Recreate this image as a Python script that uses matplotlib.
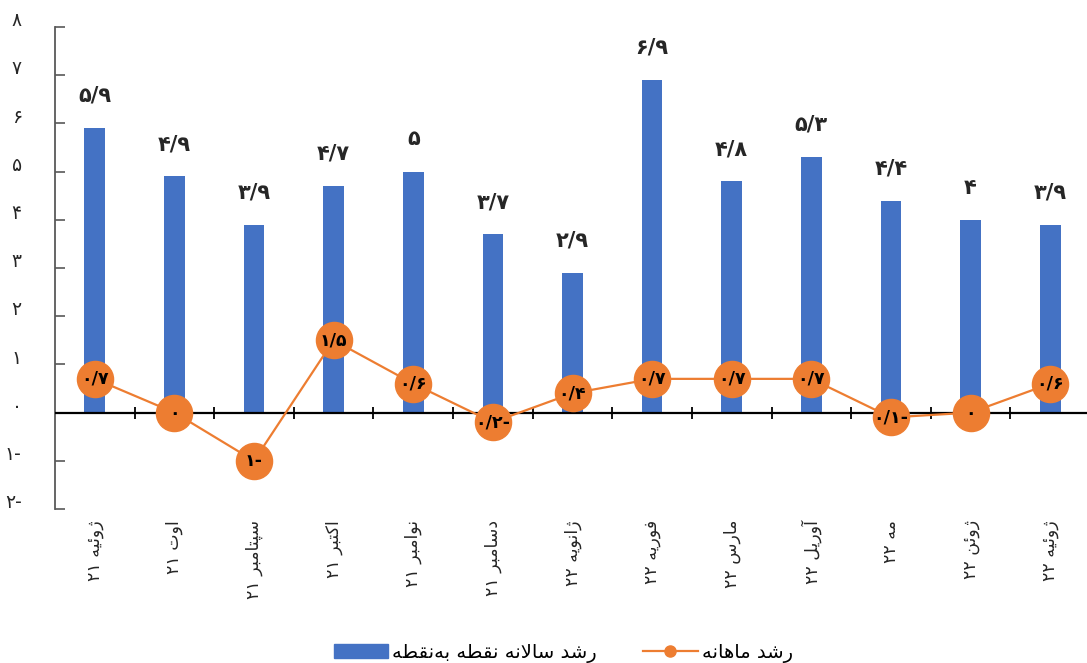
import matplotlib
matplotlib.use("Agg")
import matplotlib.pyplot as plt
from matplotlib.patches import Patch
from matplotlib.lines import Line2D
from matplotlib.transforms import ScaledTranslation

# ---- data ----
months = ["ژوئیه ۲۱", "اوت ۲۱", "سپتامبر ۲۱", "اکتبر ۲۱", "نوامبر ۲۱", "دسامبر ۲۱",
          "ژانویه ۲۲", "فوریه ۲۲", "مارس ۲۲", "آوریل ۲۲", "مه ۲۲", "ژوئن ۲۲", "ژوئیه ۲۲"]
yoy_growth = [5.9, 4.9, 3.9, 4.7, 5.0, 3.7, 2.9, 6.9, 4.8, 5.3, 4.4, 4.0, 3.9]
mom_growth = [0.7, 0.0, -1.0, 1.5, 0.6, -0.2, 0.4, 0.7, 0.7, 0.7, -0.1, 0.0, 0.6]
yoy_name = "رشد سالانه نقطه به\u200cنقطه"
mom_name = "رشد ماهانه"
y_ticks = [-2, -1, 0, 1, 2, 3, 4, 5, 6, 7, 8]

BLUE = "#4472C4"
ORANGE = "#ED7D31"

# ---- minimal Arabic-script shaping (presentation forms + visual order) ----
FORMS = {
    'ا': (0xFE8D, 0xFE8E, None, None), 'آ': (0xFE81, 0xFE82, None, None),
    'ب': (0xFE8F, 0xFE90, 0xFE91, 0xFE92), 'پ': (0xFB56, 0xFB57, 0xFB58, 0xFB59),
    'ت': (0xFE95, 0xFE96, 0xFE97, 0xFE98), 'د': (0xFEA9, 0xFEAA, None, None),
    'ر': (0xFEAD, 0xFEAE, None, None), 'ز': (0xFEAF, 0xFEB0, None, None),
    'ژ': (0xFB8A, 0xFB8B, None, None), 'س': (0xFEB1, 0xFEB2, 0xFEB3, 0xFEB4),
    'ش': (0xFEB5, 0xFEB6, 0xFEB7, 0xFEB8), 'ط': (0xFEC1, 0xFEC2, 0xFEC3, 0xFEC4),
    'ف': (0xFED1, 0xFED2, 0xFED3, 0xFED4), 'ق': (0xFED5, 0xFED6, 0xFED7, 0xFED8),
    'ک': (0xFB8E, 0xFB8F, 0xFB90, 0xFB91), 'ل': (0xFEDD, 0xFEDE, 0xFEDF, 0xFEE0),
    'م': (0xFEE1, 0xFEE2, 0xFEE3, 0xFEE4), 'ن': (0xFEE5, 0xFEE6, 0xFEE7, 0xFEE8),
    'ه': (0xFEE9, 0xFEEA, 0xFEEB, 0xFEEC), 'و': (0xFEED, 0xFEEE, None, None),
    'ی': (0xFBFC, 0xFBFD, 0xFBFE, 0xFBFF), 'ئ': (0xFE89, 0xFE8A, 0xFE8B, 0xFE8C),
}
LAM_ALEF = {'ا': (0xFEFB, 0xFEFC), 'آ': (0xFEF5, 0xFEF6)}


def joins_forward(c):
    return c in FORMS and FORMS[c][2] is not None


def shape_word(word):
    out = []
    chars = list(word)
    i = 0
    while i < len(chars):
        c = chars[i]
        if c not in FORMS:
            if c != '\u200c':
                out.append(c)
            i += 1
            continue
        prev_join = i > 0 and joins_forward(chars[i - 1])
        if c == 'ل' and i + 1 < len(chars) and chars[i + 1] in LAM_ALEF:
            iso, fin = LAM_ALEF[chars[i + 1]]
            out.append(chr(fin if prev_join else iso))
            i += 2
            continue
        next_join = (i + 1 < len(chars) and chars[i + 1] in FORMS
                     and joins_forward(c))
        iso, fin, ini, med = FORMS[c]
        if prev_join and next_join:
            g = med
        elif prev_join:
            g = fin
        elif next_join:
            g = ini
        else:
            g = iso
        out.append(chr(g))
        i += 1
    return ''.join(reversed(out))


def rtl(text):
    tokens = text.split(' ')
    vis = []
    for t in reversed(tokens):
        if any(ch in FORMS for ch in t):
            vis.append(shape_word(t))
        else:
            vis.append(t)
    return ' '.join(vis)


FA_DIGITS = str.maketrans("0123456789", "۰۱۲۳۴۵۶۷۸۹")


def fa_num(v):
    s = f"{abs(v):.1f}".rstrip('0').rstrip('.') if v != 0 else "0"
    s = s.replace('.', '/').translate(FA_DIGITS)
    return s + '-' if v < 0 else s


plt.rcParams['font.family'] = ['DejaVu Sans']

fig = plt.figure(figsize=(10.87, 6.63), dpi=100)
ax = fig.add_axes([55 / 1087, 1 - 509 / 663, 1035 / 1087, (509 - 27) / 663])

x = list(range(len(months)))
ax.bar(x, yoy_growth, width=0.26, color=BLUE, zorder=2)
ax.plot(x, mom_growth, color=ORANGE, lw=1.6, marker='o', ms=26,
        markerfacecolor=ORANGE, markeredgecolor=ORANGE, zorder=4)

for xi, v in zip(x, yoy_growth):
    ax.annotate(fa_num(v), (xi, v), xytext=(0, 16), textcoords='offset points',
                ha='center', va='bottom', fontsize=15, fontweight='bold',
                color='#262626')
for xi, v in zip(x, mom_growth):
    ax.text(xi, v, fa_num(v), ha='center', va='center', fontsize=12.5,
            fontweight='bold', color='black', zorder=5)

ax.set_xlim(-0.5, len(months) - 0.5)
ax.set_ylim(-2, 8)

# zero line with category separators
ax.axhline(0, color='black', lw=1.6, zorder=3)
sec = ax.secondary_xaxis(0, transform=ax.transData)
sec.set_xticks([i + 0.5 for i in x[:-1]])
sec.tick_params(direction='inout', length=9, width=1.3, color='black',
                labelbottom=False)
sec.spines['bottom'].set_visible(False)

ax.set_xticks(x)
ax.set_xticklabels([rtl(m) for m in months], rotation=90, fontsize=12.5,
                   color='#262626', va='top', ha='center')
ax.tick_params(axis='x', length=0, pad=8)

ax.set_yticks(y_ticks)
ax.set_yticklabels([fa_num(v) for v in y_ticks], fontsize=13.5, color='#262626')
ax.tick_params(axis='y', direction='in', length=7, width=1.2, color='#595959',
               pad=24)
lift = ScaledTranslation(0, 6 / 72, fig.dpi_scale_trans)
for lab in ax.get_yticklabels():
    lab.set_transform(lab.get_transform() + lift)

for s in ('top', 'right', 'bottom'):
    ax.spines[s].set_visible(False)
ax.spines['left'].set_color('#595959')
ax.spines['left'].set_linewidth(1.3)

handles = [Patch(facecolor=BLUE, edgecolor=BLUE),
           Line2D([], [], color=ORANGE, lw=1.6, marker='o', ms=8)]
fig.legend(handles, [rtl(yoy_name), rtl(mom_name)], loc='center',
           bbox_to_anchor=(0.518, 0.015), ncol=2, frameon=False, fontsize=14,
           handlelength=2.8, columnspacing=2.4, handletextpad=0.2)

fig.savefig("out.png", dpi=100)
